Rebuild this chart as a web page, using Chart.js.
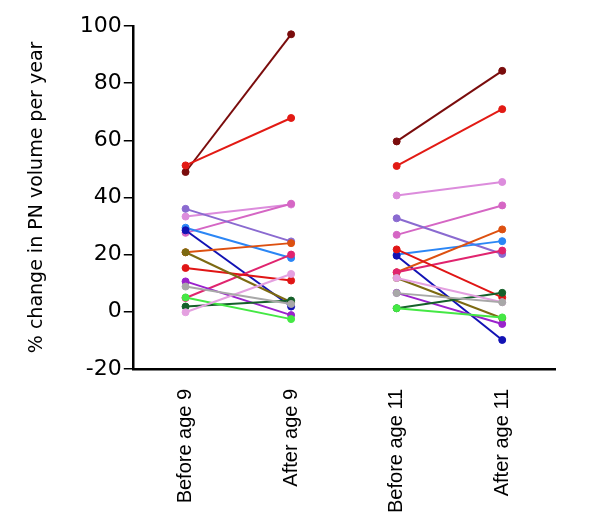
<!DOCTYPE html>
<html>
<head>
<meta charset="utf-8">
<script src="https://cdn.jsdelivr.net/npm/chart.js@4"></script>
<style>
  html, body { margin: 0; padding: 0; background: #fff; }
  #wrap { width: 600px; height: 528px; }
</style>
</head>
<body>
<div id="wrap"><canvas id="grafico" width="600" height="528"></canvas></div>
<script>
// Categorias
const labels = ["Before age 9", "After age 9", "Before age 11", "After age 11"];

// Valores de cada sujeito: [antes 9, depois 9, antes 11, depois 11]
const maroon     = [48.9, 97.1, 59.6, 84.3];
const red        = [51.2, 67.8, 51.0, 70.9];
const orchid     = [33.3, 37.5, 40.7, 45.4];
const pink       = [27.6, 37.8, 26.9, 37.2];
const purple     = [36.0, 24.6, 32.7, 20.2];
const blue       = [29.4, 18.8, 20.0, 24.7];
const navy       = [28.5, 1.8, 19.6, -9.9];
const olive      = [20.8, 3.3, 11.8, -2.3];
const orange     = [20.8, 24.0, 13.8, 28.8];
const red2       = [15.3, 10.9, 21.8, 5.0];
const violet     = [10.6, -1.2, 6.6, -4.3];
const grey       = [8.8, 2.7, 6.5, 3.3];
const crimson    = [4.8, 20.0, 13.8, 21.4];
const lime       = [5.0, -2.6, 1.2, -2.0];
const darkgreen  = [1.8, 3.9, 1.2, 6.6];
const plum       = [-0.2, 13.2, 11.8, 3.3];

const yTicks = [-20, 0, 20, 40, 60, 80, 100];

const series = [
  [grey, "#a8a8a8"],
  [plum, "#e4a0e0"],
  [lime, "#44e844"],
  [darkgreen, "#15602a"],
  [violet, "#9a22cc"],
  [olive, "#7d6a12"],
  [red2, "#e01515"],
  [crimson, "#e0246e"],
  [orange, "#dd5010"],
  [navy, "#1212b4"],
  [blue, "#2b86f5"],
  [purple, "#8a6ad0"],
  [pink, "#d566c4"],
  [orchid, "#dc8cdc"],
  [red, "#e21a14"],
  [maroon, "#7a0c0c"]
];

// Cada sujeito: uma linha por par, sem ligar "After age 9" a "Before age 11"
const datasets = series.map(([data, cor]) => ({
  data,
  borderColor: cor,
  backgroundColor: cor,
  pointBackgroundColor: cor,
  pointBorderColor: cor,
  borderWidth: 2,
  pointRadius: 3.5,
  pointBorderWidth: 1,
  tension: 0,
  segment: {
    borderColor: ctx => ctx.p0DataIndex === 1 ? "rgba(0,0,0,0)" : cor
  }
}));

new Chart(document.getElementById("grafico"), {
  type: "line",
  data: { labels, datasets },
  options: {
    responsive: false,
    animation: false,
    layout: { padding: { top: 26, right: 45, bottom: 3, left: 26 } },
    plugins: {
      legend: { display: false },
      tooltip: { enabled: false }
    },
    scales: {
      x: {
        offset: true,
        grid: { display: false },
        border: { display: true, color: "#000", width: 2.5 },
        ticks: {
          color: "#000",
          minRotation: 90,
          maxRotation: 90,
          padding: 12,
          font: { family: "'Liberation Sans', Arial, sans-serif", size: 20 }
        }
      },
      y: {
        min: -20,
        max: 100,
        afterBuildTicks: axis => { axis.ticks = yTicks.map(v => ({ value: v })); },
        grid: {
          drawOnChartArea: false,
          drawTicks: true,
          tickLength: 9,
          color: "#000",
          lineWidth: 1.5
        },
        border: { display: true, color: "#000", width: 2.5 },
        ticks: {
          color: "#000",
          padding: 2,
          font: { family: "'DejaVu Sans', sans-serif", size: 22 }
        },
        title: {
          display: true,
          text: "% change in PN volume per year",
          color: "#000",
          padding: { top: 0, bottom: 29 },
          font: { family: "'DejaVu Sans', sans-serif", size: 19 }
        }
      }
    }
  }
});
</script>
</body>
</html>
